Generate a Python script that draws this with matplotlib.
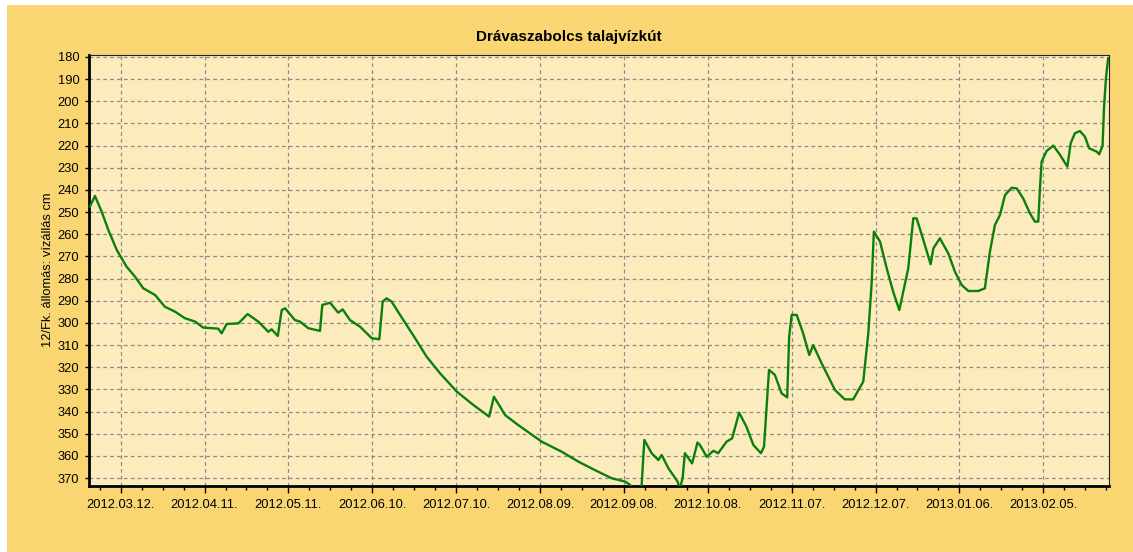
import matplotlib
matplotlib.use('Agg')
import matplotlib.pyplot as plt
import matplotlib.dates as mdates
from matplotlib.patches import Rectangle
from datetime import datetime, timedelta

# water level readings, days counted from 2012-03-01
start = datetime(2012, 3, 1)
days = [0.0, 1.8, 4.2, 6.6, 9.6, 13.1, 16.1, 19.1, 23.3, 26.8, 30.4, 34.0, 37.6, 40.5,
        45.9, 47.1, 48.9, 53.1, 56.4, 60.2, 63.8, 65.0, 67.2, 68.6, 69.8, 73.3, 75.1,
        78.1, 82.3, 83.1, 85.9, 88.8, 90.4, 93.0, 96.6, 100.8, 103.5, 104.7, 106.1,
        107.9, 112.1, 116.3, 120.4, 125.2, 131.2, 137.1, 142.8, 144.5, 146.7, 148.5,
        153.2, 161.6, 168.7, 174.7, 180.6, 186.6, 191.4, 193.2, 194.5, 196.5, 197.3,
        198.3, 200.9, 203.3, 204.5, 206.9, 210.2, 211.0, 212.0, 212.8, 215.4, 217.3,
        218.2, 220.6, 223.0, 224.7, 227.7, 229.7, 232.2, 234.8, 237.3, 240.0, 241.1,
        242.9, 245.0, 247.4, 249.4, 250.1, 251.0, 252.8, 255.1, 257.3, 258.7, 261.7,
        266.5, 270.0, 273.0, 276.6, 278.4, 279.6, 280.4, 282.6, 285.0, 287.3, 289.5,
        292.7, 294.5, 295.7, 298.1, 300.7, 301.7, 304.0, 307.0, 309.4, 311.8, 314.2,
        317.7, 320.1, 321.9, 323.7, 325.5, 327.3, 329.7, 331.5, 333.8, 336.2, 338.0,
        339.2, 339.8, 340.4, 342.2, 344.6, 347.0, 349.6, 350.8, 352.3, 354.1, 355.9,
        357.4, 360.1, 361.0, 362.2, 362.7, 363.4, 364.2]
level = [247.5, 242.7, 249.8, 258.1, 267.1, 274.6, 279.1, 284.4, 287.4, 292.7, 294.9,
         297.9, 299.4, 302.1, 302.6, 304.7, 300.5, 300.2, 296.0, 299.4, 304.0, 302.9,
         305.9, 294.2, 293.4, 298.7, 299.4, 302.4, 303.6, 291.9, 290.9, 295.4, 293.9,
         298.7, 301.7, 306.9, 307.4, 290.4, 288.9, 290.4, 298.7, 306.9, 315.2, 322.7,
         331.0, 337.0, 342.3, 333.3, 337.8, 341.6, 346.1, 353.6, 358.1, 362.6, 366.4,
         370.1, 371.6, 373.1, 375.0, 375.0, 374.0, 352.8, 358.8, 361.9, 359.6, 365.6,
         371.6, 375.0, 370.0, 358.8, 363.4, 354.0, 355.1, 360.4, 357.7, 358.8, 353.6,
         352.1, 340.5, 346.8, 355.1, 358.8, 355.9, 321.2, 323.5, 331.8, 333.6, 306.2,
         296.4, 296.4, 304.7, 314.5, 310.0, 318.2, 330.3, 334.5, 334.5, 326.5, 304.7,
         282.1, 258.8, 263.3, 275.4, 285.9, 294.2, 275.4, 252.8, 252.8, 262.6, 273.5,
         266.3, 261.8, 268.6, 276.9, 282.9, 285.6, 285.6, 284.4, 267.9, 255.8, 251.3,
         242.3, 239.0, 239.3, 243.8, 250.5, 254.3, 254.3, 239.3, 227.2, 222.4, 220.0,
         224.2, 229.5, 218.9, 214.4, 213.4, 216.0, 221.2, 222.7, 223.9, 220.0, 203.2,
         189.6, 180.6]

title = 'Drávaszabolcs talajvízkút'
ylabel = '12/Fk. állomás: vízállás cm'
first_tick = datetime(2012, 3, 12)

dates = [start + timedelta(days=d) for d in days]

plt.rcParams['font.family'] = ['Liberation Sans', 'DejaVu Sans']

W, H = 1133, 552
fig = plt.figure(figsize=(W / 100, H / 100), dpi=100, facecolor='white')
bg = Rectangle((7 / W, 0), 1 - 7 / W, 1 - 5 / H, transform=fig.transFigure,
               facecolor='#fad673', edgecolor='none', zorder=-10)
fig.patches.append(bg)

ax = fig.add_axes([89 / W, 66 / H, 1020 / W, 431 / H])
ax.set_facecolor('#fcecbd')
ax.plot(dates, level, color='#0b7f0b', lw=1.7, zorder=3)

ax.set_xlim(start - timedelta(hours=8), start + timedelta(days=364.5))
ax.set_ylim(373.6, 179.1)

ax.set_yticks(range(180, 371, 10))
major = [first_tick + timedelta(days=30 * k) for k in range(12)]
minor = [first_tick + timedelta(days=7.5 * k) for k in range(-1, 48)]
ax.set_xticks(major)
ax.set_xticks(minor, minor=True)
ax.xaxis.set_major_formatter(mdates.DateFormatter('%Y.%m.%d.'))

ax.grid(True, which='major', color='#8a8a8a', linestyle=(0, (3, 2.5)), lw=0.9)
ax.tick_params(axis='x', which='major', length=5, width=1, pad=4.5, labelsize=9.3)
ax.tick_params(axis='x', which='minor', length=3, width=1)
ax.tick_params(axis='y', length=3, width=1, pad=4, labelsize=9.3)

for s in ['left', 'bottom']:
    ax.spines[s].set_linewidth(2)
for s in ['top', 'right']:
    ax.spines[s].set_linewidth(0.8)
    ax.spines[s].set_color('#222222')

fig.text(569 / W, 1 - 37 / H, title, ha='center', va='center', fontsize=11, fontweight='bold')
fig.text(48 / W, 1 - 270 / H, ylabel, ha='center', va='center', rotation=90, fontsize=9.3)

fig.savefig('out.png', dpi=100, facecolor=fig.get_facecolor())
